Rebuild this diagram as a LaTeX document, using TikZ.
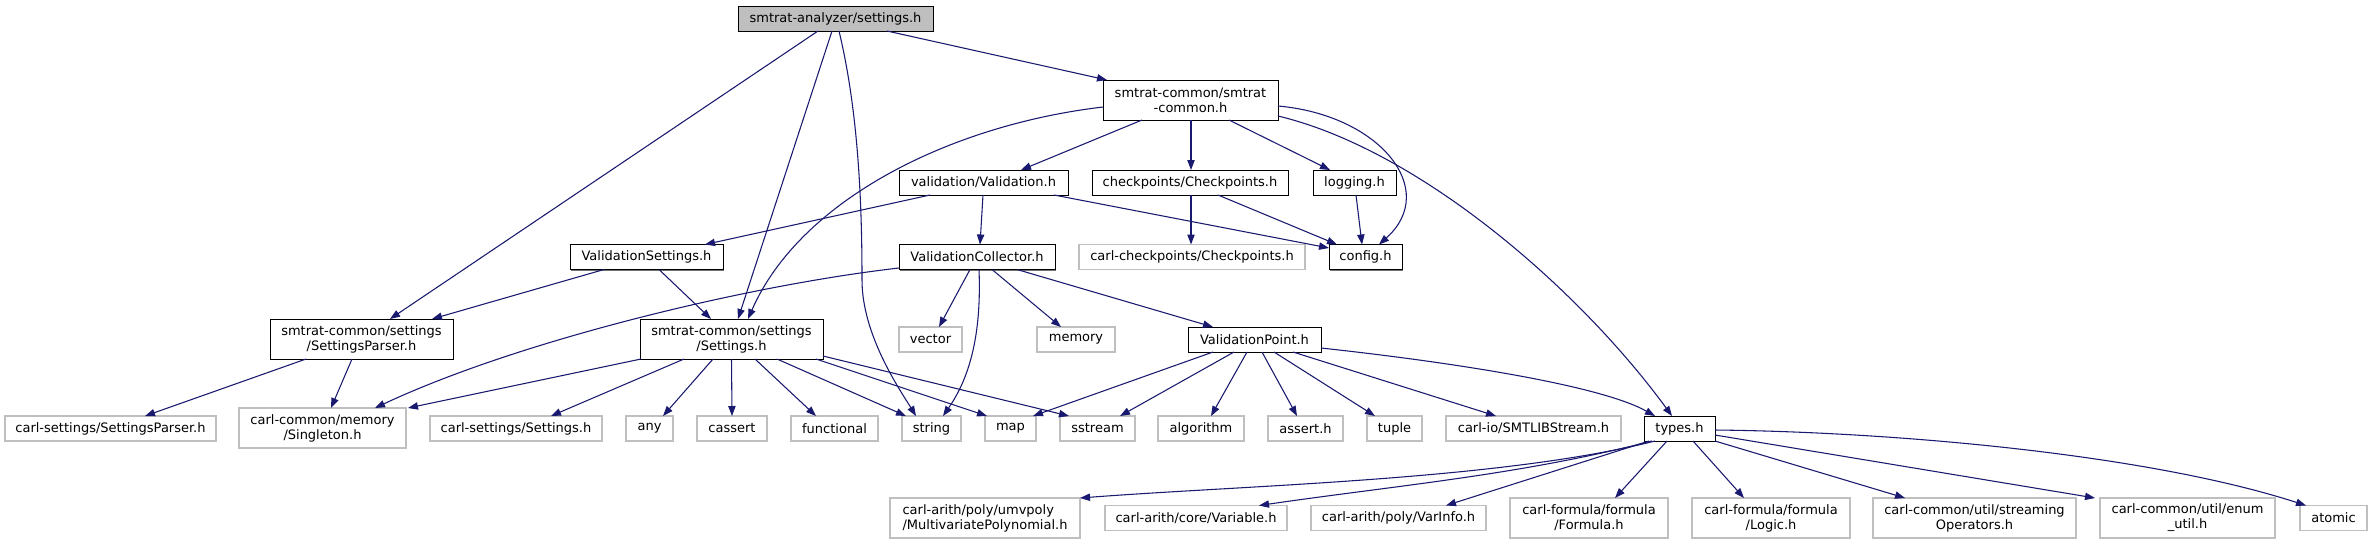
\documentclass[tikz,border=0pt]{standalone}
\usepackage{fontspec}
\setmainfont{DejaVu Sans}
\usetikzlibrary{arrows.meta,shadows}
\definecolor{edgec}{RGB}{25,25,112}
\definecolor{extc}{RGB}{191,191,191}
\definecolor{rootf}{RGB}{191,191,191}
\tikzset{
 hone/.style={minimum height=18.75pt},
 htwo/.style={minimum height=30pt},
 inbox/.style={draw=black, fill=white, line width=0.75pt, general shadow={fill=black!55, shadow xshift=0.75pt, shadow yshift=-0.75pt}},
 rootbox/.style={inbox, fill=rootf},
 extbox/.style={draw=extc, fill=white, line width=1pt},
 conn/.style={draw=edgec, line width=0.8pt, -{Triangle[length=7.5pt,width=5.5pt]}}
}
\begin{document}
\begin{tikzpicture}[x=0.75pt,y=-0.75pt,
 every node/.style={font=\fontsize{9.75pt}{11.25pt}\selectfont, inner sep=0pt, outer sep=0pt, align=center}]
\fill[white] (0,0) rectangle (2372,544);
\useasboundingbox (0,0) rectangle (2372,544);

% row 0-1
\node[rootbox, hone, minimum width=195*0.75pt] (root) at (835.5,18.5) {smtrat-analyzer/settings.h};
\node[inbox, htwo, minimum width=175*0.75pt] (scommon) at (1190.5,100) {smtrat-common/smtrat\\-common.h};
% row 2
\node[inbox, hone, minimum width=169*0.75pt] (valid) at (983.5,182.5) {validation/Validation.h};
\node[inbox, hone, minimum width=196*0.75pt] (chkp) at (1190,182.5) {checkpoints/Checkpoints.h};
\node[inbox, hone, minimum width=83*0.75pt] (logging) at (1354.5,182.5) {logging.h};
% row 3
\node[inbox, hone, minimum width=153*0.75pt] (vsettings) at (646.5,257) {ValidationSettings.h};
\node[inbox, hone, minimum width=156*0.75pt] (vcollector) at (977,257) {ValidationCollector.h};
\node[extbox, hone, minimum width=226*0.75pt] (carlchk) at (1192,257) {carl-checkpoints/Checkpoints.h};
\node[inbox, hone, minimum width=73*0.75pt] (config) at (1365.5,257) {config.h};
% row 4
\node[inbox, htwo, minimum width=183*0.75pt] (sparser) at (361.5,339) {smtrat-common/settings\\/SettingsParser.h};
\node[inbox, htwo, minimum width=183*0.75pt] (settings) at (731.5,339) {smtrat-common/settings\\/Settings.h};
\node[extbox, hone, minimum width=63*0.75pt] (vector) at (930.5,339.5) {vector};
\node[extbox, hone, minimum width=78*0.75pt] (memory) at (1076,339.5) {memory};
\node[inbox, hone, minimum width=133*0.75pt] (vpoint) at (1254.5,339.5) {ValidationPoint.h};
% row 5
\node[extbox, hone, minimum width=211*0.75pt] (carlsparser) at (110.5,428.5) {carl-settings/SettingsParser.h};
\node[extbox, htwo, minimum width=167*0.75pt] (singleton) at (322.5,428) {carl-common/memory\\/Singleton.h};
\node[extbox, hone, minimum width=172*0.75pt] (carlsettings) at (516,428.5) {carl-settings/Settings.h};
\node[extbox, hone, minimum width=47*0.75pt] (any) at (649.5,428.5) {any};
\node[extbox, hone, minimum width=70*0.75pt] (cassert) at (732,428.5) {cassert};
\node[extbox, hone, minimum width=87*0.75pt] (functional) at (834.5,428.5) {functional};
\node[extbox, hone, minimum width=59*0.75pt] (string) at (931.5,428.5) {string};
\node[extbox, hone, minimum width=51*0.75pt] (map) at (1010.5,428.5) {map};
\node[extbox, hone, minimum width=75*0.75pt] (sstream) at (1097.5,428.5) {sstream};
\node[extbox, hone, minimum width=86*0.75pt] (algorithm) at (1201,428.5) {algorithm};
\node[extbox, hone, minimum width=75*0.75pt] (asserth) at (1305.5,428.5) {assert.h};
\node[extbox, hone, minimum width=55*0.75pt] (tuple) at (1394.5,428.5) {tuple};
\node[extbox, hone, minimum width=175*0.75pt] (smtlib) at (1533.5,428.5) {carl-io/SMTLIBStream.h};
\node[inbox, hone, minimum width=71*0.75pt] (types) at (1679.5,428.5) {types.h};
% row 6
\node[extbox, htwo, minimum width=190*0.75pt, align=left] (mvpoly) at (985,518) {carl-arith/poly/umvpoly\\/MultivariatePolynomial.h};
\node[extbox, hone, minimum width=182*0.75pt] (variable) at (1196,518) {carl-arith/core/Variable.h};
\node[extbox, hone, minimum width=175*0.75pt] (varinfo) at (1398.5,518) {carl-arith/poly/VarInfo.h};
\node[extbox, htwo, minimum width=158*0.75pt] (formula) at (1589,518) {carl-formula/formula\\/Formula.h};
\node[extbox, htwo, minimum width=158*0.75pt] (logic) at (1771,518) {carl-formula/formula\\/Logic.h};
\node[extbox, htwo, minimum width=203*0.75pt] (streaming) at (1974.5,518) {carl-common/util/streaming\\Operators.h};
\node[extbox, htwo, minimum width=175*0.75pt] (enumutil) at (2187.5,518) {carl-common/util/enum\\\_util.h};
\node[extbox, hone, minimum width=67*0.75pt] (atomic) at (2333.5,518) {atomic};

% root
\draw[conn] (887,0 |- root.south) -- (1107,0 |- scommon.north);
\draw[conn] (818,0 |- root.south) -- (390,0 |- sparser.north);
\draw[conn] (832,0 |- root.south) -- (738,0 |- settings.north);
\draw[conn] (839,0 |- root.south) .. controls (858,110) and (862,200) .. (862,280) .. controls (862,335) and (900,390) .. (916,0 |- string.north);
% smtrat-common
\draw[conn] (1142,0 |- scommon.south) -- (1021,0 |- valid.north);
\draw[conn] (1191,0 |- scommon.south) -- (1191,0 |- chkp.north);
\draw[conn] (1229,0 |- scommon.south) -- (1330,0 |- logging.north);
\draw[conn] (scommon.east |- 0,106) .. controls (1380,115) and (1440,190) .. (1379,0 |- config.north);
\draw[conn] (scommon.east |- 0,116) .. controls (1420,150) and (1580,290) .. (1672,0 |- types.north);
\draw[conn] (scommon.west |- 0,107) .. controls (950,125) and (800,200) .. (748,0 |- settings.north);
% validation
\draw[conn] (930,0 |- valid.south) -- (705,0 |- vsettings.north);
\draw[conn] (983,0 |- valid.south) -- (980,0 |- vcollector.north);
\draw[conn] (1054,0 |- valid.south) -- (config.west |- 0,248);
% checkpoints, logging
\draw[conn] (1191,0 |- chkp.south) -- (1191,0 |- carlchk.north);
\draw[conn] (1218,0 |- chkp.south) -- (1337,0 |- config.north);
\draw[conn] (1356,0 |- logging.south) -- (1362,0 |- config.north);
% validation settings
\draw[conn] (604,0 |- vsettings.south) -- (432,0 |- sparser.north);
\draw[conn] (659,0 |- vsettings.south) -- (711,0 |- settings.north);
% validation collector
\draw[conn] (vcollector.west |- 0,268) .. controls (750,285) and (520,340) .. (375,0 |- singleton.north);
\draw[conn] (970,0 |- vcollector.south) -- (939,0 |- vector.north);
\draw[conn] (979,0 |- vcollector.south) .. controls (981,320) and (975,370) .. (943,0 |- string.north);
\draw[conn] (992,0 |- vcollector.south) -- (1061,0 |- memory.north);
\draw[conn] (1017,0 |- vcollector.south) -- (1213,0 |- vpoint.north);
% settings
\draw[conn] (641,0 |- settings.south) -- (408,0 |- singleton.north);
\draw[conn] (684,0 |- settings.south) -- (551,0 |- carlsettings.north);
\draw[conn] (713,0 |- settings.south) -- (663,0 |- any.north);
\draw[conn] (settings.south) -- (cassert.north);
\draw[conn] (755,0 |- settings.south) -- (816,0 |- functional.north);
\draw[conn] (777,0 |- settings.south) -- (906,0 |- string.north);
\draw[conn] (816,0 |- settings.south) -- (987,0 |- map.north);
\draw[conn] (settings.east |- 0,356) -- (1069,0 |- sstream.north);
% validation point
\draw[conn] (1213,0 |- vpoint.south) -- (1033,0 |- map.north);
\draw[conn] (1234,0 |- vpoint.south) -- (1120,0 |- sstream.north);
\draw[conn] (1247,0 |- vpoint.south) -- (1211,0 |- algorithm.north);
\draw[conn] (1262,0 |- vpoint.south) -- (1297,0 |- asserth.north);
\draw[conn] (1274,0 |- vpoint.south) -- (1375,0 |- tuple.north);
\draw[conn] (1293,0 |- vpoint.south) -- (1496,0 |- smtlib.north);
\draw[conn] (vpoint.east |- 0,348) .. controls (1450,362) and (1600,385) .. (1655,0 |- types.north);
% types
\draw[conn] (1655,0 |- types.south) .. controls (1500,480) and (1250,485) .. (1080,0 |- mvpoly.north);
\draw[conn] (1652,0 |- types.south) .. controls (1520,475) and (1400,485) .. (1259,0 |- variable.north);
\draw[conn] (1649,0 |- types.south) -- (1446,0 |- varinfo.north);
\draw[conn] (1667,0 |- types.south) -- (1615,0 |- formula.north);
\draw[conn] (1693,0 |- types.south) -- (1744,0 |- logic.north);
\draw[conn] (types.east |- 0,441) -- (1905,0 |- streaming.north);
\draw[conn] (types.east |- 0,435) -- (2095,0 |- enumutil.north);
\draw[conn] (types.east |- 0,430) .. controls (1900,432) and (2150,455) .. (2306,0 |- atomic.north);
% settings parser
\draw[conn] (306,0 |- sparser.south) -- (145,0 |- carlsparser.north);
\draw[conn] (352,0 |- sparser.south) -- (331,0 |- singleton.north);
\end{tikzpicture}
\end{document}
